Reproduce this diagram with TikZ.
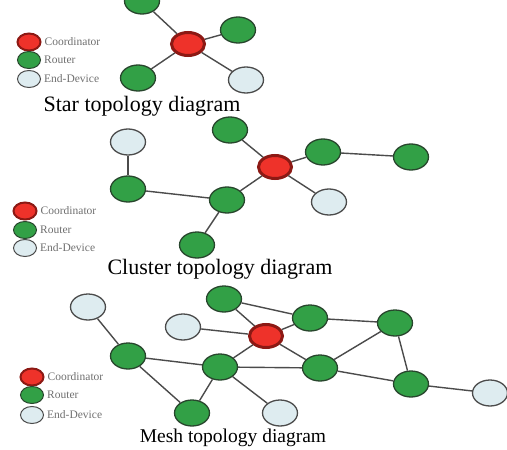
\documentclass[tikz,border=0pt]{standalone}
\usepackage{fontspec}
\setmainfont{Liberation Serif}
\usepackage{tikz}
\usetikzlibrary{positioning, shapes.geometric}
\definecolor{NetGreen}{RGB}{50, 160, 70}
\definecolor{NetGreenDark}{RGB}{40, 70, 45}
\definecolor{NetEnd}{RGB}{222, 236, 240}
\definecolor{NetRed}{RGB}{238, 50, 42}
\definecolor{NetRedDark}{RGB}{140, 25, 20}
\definecolor{NetGray}{RGB}{75, 75, 75}

\begin{document}
\begin{tikzpicture}[
    x=1pt, y=-1pt,
    every node/.style={inner sep=0pt},
    router/.style={ellipse, draw=NetGreenDark, line width=1.3pt, fill=NetGreen,
                   minimum width=35pt, minimum height=26pt},
    enddev/.style={ellipse, draw=NetGray, line width=1.3pt, fill=NetEnd,
                   minimum width=35pt, minimum height=26pt},
    coord/.style={ellipse, draw=NetRedDark, line width=3pt, fill=NetRed,
                  minimum width=33pt, minimum height=23pt},
    small/.style={minimum width=23pt, minimum height=17pt, line width=1pt},
    legtext/.style={font=\fontsize{11.5}{13}\selectfont, text=NetGray!80, right=3pt},
    title/.style={font=\fontsize{22}{25}\selectfont},
    link/.style={draw=NetGray, line width=1.4pt}
]
\useasboundingbox (0,0) rectangle (507,450);

% --- Star ---------------------------------------------------------------
\node[coord]  (sC)  at (188,44)  {};
\node[router] (sR1) at (142,1)   {};
\node[router] (sR2) at (238,30)  {};
\node[router] (sR3) at (138,78)  {};
\node[enddev] (sE1) at (246,80)  {};

\draw[link] (sC) -- (sR1);
\draw[link] (sC) -- (sR2);
\draw[link] (sC) -- (sR3);
\draw[link] (sC) -- (sE1);

\node[coord, small, line width=2pt] (sLc) at (29,42) {};
\node[router, small]                (sLr) at (29,60) {};
\node[enddev, small]                (sLe) at (29,79) {};
\node[legtext] at (sLc.east) {Coordinator};
\node[legtext] at (sLr.east) {Router};
\node[legtext] at (sLe.east) {End-Device};

\node[title] (sT) at (142,106) {Star topology diagram};

% --- Cluster ------------------------------------------------------------
\node[coord]  (cC)  at (275,167) {};
\node[enddev] (cE1) at (128,142) {};
\node[router] (cR1) at (128,189) {};
\node[router] (cR2) at (230,130) {};
\node[router] (cR3) at (323,152) {};
\node[router] (cR4) at (411,157) {};
\node[router] (cR5) at (227,200) {};
\node[enddev] (cE2) at (329,202) {};
\node[router] (cR6) at (197,245) {};

\draw[link] (cE1) -- (cR1);
\draw[link] (cR1) -- (cR5);
\draw[link] (cR5) -- (cC);
\draw[link] (cR5) -- (cR6);
\draw[link] (cR2) -- (cC);
\draw[link] (cC)  -- (cR3);
\draw[link] (cR3) -- (cR4);
\draw[link] (cC)  -- (cE2);

\node[coord, small, line width=2pt] (cLc) at (25,211) {};
\node[router, small]                (cLr) at (25,230) {};
\node[enddev, small]                (cLe) at (25,248) {};
\node[legtext] at (cLc.east) {Coordinator};
\node[legtext] at (cLr.east) {Router};
\node[legtext] at (cLe.east) {End-Device};

\node[title] (cT) at (220,269) {Cluster topology diagram};

% --- Mesh ---------------------------------------------------------------
\node[coord]  (mC)  at (266,336) {};
\node[enddev] (mE1) at (88,307)  {};
\node[router] (mR1) at (224,299) {};
\node[enddev] (mE2) at (183,327) {};
\node[router] (mR2) at (310,318) {};
\node[router] (mR3) at (395,323) {};
\node[router] (mR4) at (128,356) {};
\node[router] (mR5) at (220,367) {};
\node[router] (mR6) at (320,368) {};
\node[router] (mR7) at (411,384) {};
\node[enddev] (mE3) at (490,393) {};
\node[router] (mR8) at (192,413) {};
\node[enddev] (mE4) at (280,413) {};

\draw[link] (mE1) -- (mR4);
\draw[link] (mR1) -- (mC);
\draw[link] (mR1) -- (mR2);
\draw[link] (mE2) -- (mC);
\draw[link] (mC)  -- (mR2);
\draw[link] (mR2) -- (mR3);
\draw[link] (mC)  -- (mR5);
\draw[link] (mC)  -- (mR6);
\draw[link] (mR3) -- (mR6);
\draw[link] (mR3) -- (mR7);
\draw[link] (mR4) -- (mR5);
\draw[link] (mR4) -- (mR8);
\draw[link] (mR5) -- (mR6);
\draw[link] (mR5) -- (mR8);
\draw[link] (mR5) -- (mE4);
\draw[link] (mR6) -- (mR7);
\draw[link] (mR7) -- (mE3);

\node[coord, small, line width=2pt] (mLc) at (32,377) {};
\node[router, small]                (mLr) at (32,395) {};
\node[enddev, small]                (mLe) at (32,415) {};
\node[legtext] at (mLc.east) {Coordinator};
\node[legtext] at (mLr.east) {Router};
\node[legtext] at (mLe.east) {End-Device};

\node[title, font=\fontsize{19.5}{23}\selectfont] (mT) at (233,438) {Mesh topology diagram};

\end{tikzpicture}
\end{document}
